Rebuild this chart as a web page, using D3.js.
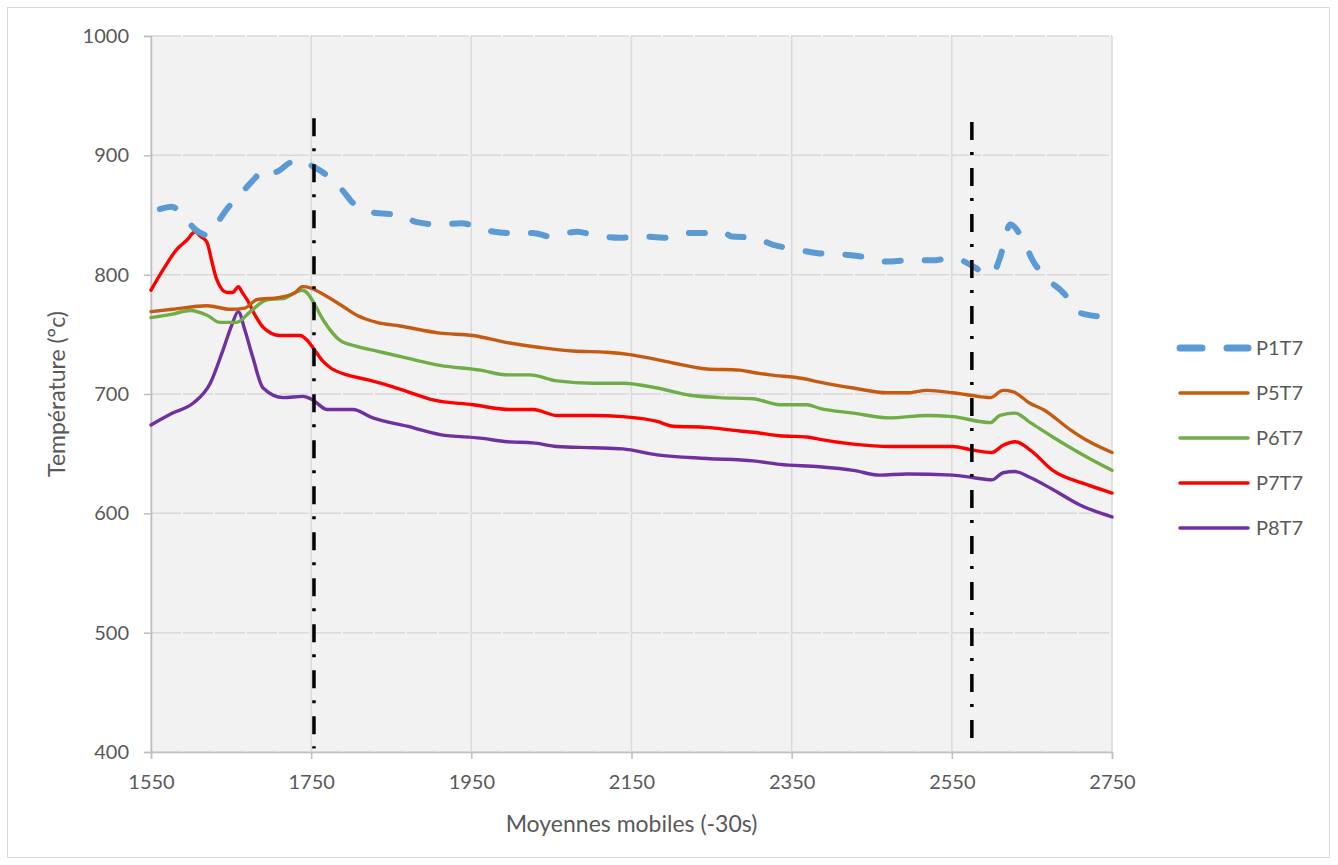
<!DOCTYPE html>
<html>
<head>
<meta charset="utf-8">
<script src="https://cdn.jsdelivr.net/npm/d3@7"></script>
<style>
  body { margin: 0; background: #fff; }
  text { font-family: Lato, "Open Sans", sans-serif; fill: #595959; }
</style>
</head>
<body>
<div id="chart"></div>
<script>
// values, [x, temperature]
const p1t7 = [[1561,855],[1576,857],[1589,850],[1607,837],[1621,833],[1626,837],[1646,856],[1661,867],[1680,881],[1692,889],[1705,886],[1724,894],[1739,896],[1749,892],[1764,886],[1786,873],[1807,857],[1827,852],[1861,850],[1882,844],[1911,842],[1938,843],[1970,837],[1995,835],[2027,835],[2048,832],[2082,836],[2104,833],[2136,831],[2161,832],[2192,831],[2219,835],[2248,835],[2264,836],[2275,832],[2302,831],[2327,825],[2357,821],[2383,818],[2413,817],[2439,815],[2469,811],[2495,812],[2525,812],[2551,814],[2579,806],[2594,800],[2604,804],[2610,814],[2623,842],[2639,829],[2651,812],[2670,796],[2689,785],[2710,768],[2735,765]];
const p5t7 = [[1550,769],[1577,771],[1620,774],[1649,771],[1667,772],[1682,779],[1711,781],[1730,785],[1739,790],[1749,789],[1761,785],[1786,775],[1807,766],[1832,760],[1861,757],[1911,751],[1952,749],[1995,743],[2036,739],[2077,736],[2119,735],[2148,733],[2173,730],[2202,726],[2244,721],[2285,720],[2302,718],[2323,716],[2364,713],[2385,710],[2427,705],[2469,701],[2494,701],[2519,703],[2551,701],[2573,699],[2598,697],[2614,703],[2626,702],[2648,692],[2664,687],[2698,670],[2719,661],[2750,651]];
const p6t7 = [[1550,764],[1577,767],[1599,770],[1620,766],[1636,760],[1657,760],[1674,769],[1695,779],[1715,780],[1730,785],[1739,787],[1746,784],[1751,779],[1765,762],[1786,745],[1807,740],[1832,736],[1870,730],[1911,724],[1961,720],[1995,716],[2023,716],[2057,711],[2102,709],[2139,709],[2182,705],[2223,699],[2260,697],[2302,696],[2335,691],[2369,691],[2385,688],[2427,684],[2473,680],[2519,682],[2551,681],[2598,676],[2610,682],[2629,684],[2648,676],[2676,664],[2719,647],[2750,636]];
const p7t7 = [[1550,787],[1565,804],[1582,821],[1595,829],[1605,836],[1612,832],[1620,827],[1626,811],[1632,796],[1645,785],[1652,785],[1659,790],[1664,785],[1670,779],[1680,766],[1690,756],[1711,749],[1724,749],[1736,749],[1745,745],[1752,739],[1764,728],[1774,722],[1795,716],[1820,712],[1842,708],[1870,702],[1902,695],[1952,691],[1998,687],[2027,687],[2057,682],[2102,682],[2139,681],[2182,677],[2202,673],[2244,672],[2285,669],[2302,668],[2335,665],[2369,664],[2385,662],[2427,658],[2473,656],[2519,656],[2551,656],[2576,653],[2600,651],[2614,657],[2629,660],[2648,653],[2676,636],[2719,624],[2750,617]];
const p8t7 = [[1550,674],[1577,684],[1602,692],[1624,709],[1640,737],[1651,758],[1659,769],[1667,754],[1677,731],[1690,705],[1715,697],[1740,698],[1752,695],[1770,687],[1802,687],[1827,680],[1870,673],[1911,666],[1961,663],[1995,660],[2027,659],[2057,656],[2102,655],[2139,654],[2182,649],[2244,646],[2302,644],[2335,641],[2385,639],[2427,636],[2460,632],[2494,633],[2551,632],[2576,630],[2600,628],[2614,634],[2629,635],[2648,630],[2676,620],[2710,607],[2750,597]];

const seriesNames = ["P1T7", "P5T7", "P6T7", "P7T7", "P8T7"];
const seriesColors = ["#5b9bd5", "#c55a11", "#70ad47", "#ff0000", "#7030a0"];
const xTicks = [1550, 1750, 1950, 2150, 2350, 2550, 2750];
const yTicks = [400, 500, 600, 700, 800, 900, 1000];
// vertical marker lines: [x, top, bottom]
const markers = [[1753.5, 931, 403], [2575, 928, 403]];

function main(){
    let width = 1338;
    let height = 865;
    let margin = {left: 151, top: 36, right: 226, bottom: 113};
    let w = width - margin.left - margin.right;
    let h = height - margin.top - margin.bottom;

    let svg = d3.select("#chart").append("svg")
        .attr("width", width)
        .attr("height", height);

    svg.append("rect")
        .attr("x", 7.5).attr("y", 7.5)
        .attr("width", 1322).attr("height", 850)
        .attr("fill", "#fff")
        .attr("stroke", "#d9d9d9");

    let g = svg.append("g")
        .attr("transform", "translate(" + margin.left + "," + margin.top + ")");

    let x = d3.scaleLinear().domain([1550, 2750]).range([0, w]);
    let y = d3.scaleLinear().domain([400, 1000]).range([h, 0]);

    g.append("rect")
        .attr("width", w).attr("height", h)
        .attr("fill", "#f2f2f2");

    // grid
    g.selectAll(".hgrid")
        .data(yTicks)
        .enter()
        .append("line")
        .attr("x1", 0).attr("x2", w)
        .attr("y1", d => y(d)).attr("y2", d => y(d))
        .attr("stroke", "#d9d9d9")
        .attr("stroke-width", 1.5)
        .attr("stroke-dasharray", "30 2");
    g.selectAll(".vgrid")
        .data(xTicks)
        .enter()
        .append("line")
        .attr("x1", d => x(d)).attr("x2", d => x(d))
        .attr("y1", 0).attr("y2", h)
        .attr("stroke", "#d9d9d9")
        .attr("stroke-width", 1.5);

    let yAxis = g.append("g")
        .call(d3.axisLeft(y).tickValues(yTicks).tickSize(7).tickPadding(15).tickFormat(d3.format("d")));
    let xAxis = g.append("g")
        .attr("transform", "translate(0," + h + ")")
        .call(d3.axisBottom(x).tickValues(xTicks).tickSize(7).tickPadding(16).tickFormat(d3.format("d")));
    [xAxis, yAxis].forEach(function(a){
        a.select(".domain").attr("stroke", "#bfbfbf").attr("stroke-width", 1.5);
        a.selectAll(".tick line").attr("stroke", "#bfbfbf").attr("stroke-width", 1.5);
        a.selectAll("text").attr("font-size", 20).attr("fill", "#595959")
            .attr("font-family", "Lato, sans-serif");
    });

    let line = d3.line()
        .x(d => x(d[0]))
        .y(d => y(d[1]))
        .curve(d3.curveMonotoneX);

    let all = [p1t7, p5t7, p6t7, p7t7, p8t7];
    // draw back to front like the reference
    for(let i = all.length - 1; i >= 0; i--){
        g.append("path")
            .attr("d", line(all[i]))
            .attr("fill", "none")
            .attr("stroke", seriesColors[i])
            .attr("stroke-width", i === 0 ? 6 : 3.4)
            .attr("stroke-linecap", "round")
            .attr("stroke-linejoin", "round")
            .attr("stroke-dasharray", i === 0 ? "16 24" : null);
    }

    g.selectAll(".marker")
        .data(markers)
        .enter()
        .append("line")
        .attr("x1", d => x(d[0])).attr("x2", d => x(d[0]))
        .attr("y1", d => y(d[1])).attr("y2", d => y(d[2]))
        .attr("stroke", "#000")
        .attr("stroke-width", 3.5)
        .attr("stroke-dasharray", "18 12 3 13");

    // axis titles
    svg.append("text")
        .attr("x", margin.left + w / 2)
        .attr("y", 832)
        .attr("text-anchor", "middle")
        .attr("font-size", 23)
        .text("Moyennes mobiles (-30s)");
    svg.append("text")
        .attr("transform", "translate(65," + (margin.top + h / 2) + ") rotate(-90)")
        .attr("text-anchor", "middle")
        .attr("font-size", 23)
        .text("Température (°c)");

    // legend
    let legend = svg.append("g").attr("transform", "translate(1178,348)");
    seriesNames.forEach(function(name, i){
        let row = legend.append("g").attr("transform", "translate(0," + i * 45 + ")");
        row.append("line")
            .attr("x1", 2).attr("x2", 70)
            .attr("stroke", seriesColors[i])
            .attr("stroke-width", i === 0 ? 7 : 3.5)
            .attr("stroke-linecap", "round")
            .attr("stroke-dasharray", i === 0 ? "22 25" : null);
        row.append("text")
            .attr("x", 78)
            .attr("dy", "0.35em")
            .attr("font-size", 20)
            .text(name);
    });
}

main();
</script>
</body>
</html>
